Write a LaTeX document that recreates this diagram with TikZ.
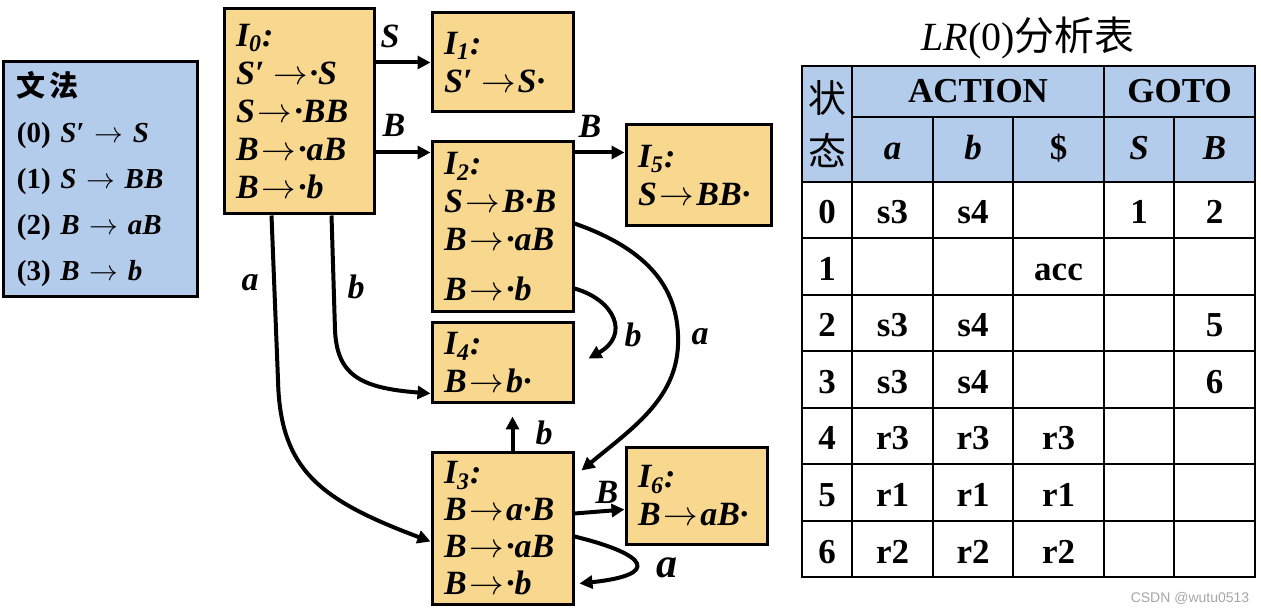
\documentclass[tikz,border=0pt]{standalone}
\usepackage{fontspec}
\setmainfont{Liberation Serif}
\newfontfamily\cjk{Noto Sans CJK SC}
\newfontfamily\wmfont{Liberation Sans}
\usetikzlibrary{arrows.meta,calc}
\definecolor{itemfill}{HTML}{F8D88E}
\definecolor{hdrfill}{HTML}{B4CCEB}
\tikzset{
	item/.style={draw, line width=1.5pt, fill=itemfill, align=left, inner xsep=6pt, inner ysep=1pt,
		font=\fontsize{17}{19}\selectfont\bfseries\itshape},
	arr/.style={line width=2pt, -{Triangle[length=6.5pt,width=6.5pt]}},
	lbl/.style={font=\fontsize{17}{19}\selectfont\bfseries\itshape, inner sep=0pt},
	tbl/.style={line width=1pt},
	cell/.style={font=\fontsize{17.5}{20}\selectfont\bfseries, inner sep=0pt, anchor=base}
}
\newcommand{\Iset}[1]{I\textsubscript{#1}:}
\newcommand{\itemar}{\kern1.5pt$\to$\kern1pt}
\begin{document}
\begin{tikzpicture}[x=0.5pt, y=-0.5pt]
\useasboundingbox (0,0) rectangle (1261,613);

% gramatica
	\node[draw, line width=1.5pt, fill=hdrfill, align=left, inner xsep=7pt, text width=83pt, minimum height=117.5pt,
		font=\fontsize{14.5}{23}\selectfont\bfseries] (G) at (100,179.5)
		{{\cjk 文\hspace{2pt}法}\\
		 (0) \textit{S}′ $\rightarrow$ \textit{S}\\
		 (1) \textit{S} $\rightarrow$ \textit{BB}\\
		 (2) \textit{B} $\rightarrow$ \textit{aB}\\
		 (3) \textit{B} $\rightarrow$ \textit{b}};

% estados
	\node[item, text width=63pt, minimum height=102.5pt] (I0) at (299,111.5)
		{\Iset{0}\\ S′\,\itemar·S\\ S\itemar·BB\\ B\itemar·aB\\ B\itemar·b};
	\node[item, text width=58.5pt, minimum height=49.5pt] (I1) at (502.5,62.5)
		{\Iset{1}\\ S′\,\itemar S·};
	\node[item, text width=58.5pt, minimum height=85pt] (I2) at (502.5,227)
		{\Iset{2}\\ S\itemar B·B\\ B\itemar·aB\\[6pt] B\itemar·b};
	\node[item, text width=60.5pt, minimum height=50.5pt] (I5) at (698.5,175.5)
		{\Iset{5}\\ S\itemar BB·};
	\node[item, text width=58.5pt, minimum height=40pt] (I4) at (502.5,363)
		{\Iset{4}\\ B\itemar b·};
	\node[item, text width=58.5pt, minimum height=75.5pt, font=\fontsize{17}{18.5}\selectfont\bfseries\itshape] (I3) at (502.5,528.5)
		{\Iset{3}\\ B\itemar a·B\\ B\itemar·aB\\ B\itemar·b};
	\node[item, text width=58.5pt, minimum height=48pt] (I6) at (696.5,496)
		{\Iset{6}\\ B\itemar aB·};

% transiciones
	\draw[arr] (I0.east |- I1.west) -- (I1.west);
	\coordinate (I2in) at ($(I2.north west)+(0,12)$);
	\draw[arr] (I0.east |- I2in) -- (I2in);
	\draw[arr] ($(I2.north east)+(0,12)$) -- ($(I5.north west)+(0,29)$);
	\draw[arr] ($(I0.south west)+(109,0)$) -- (335,330) .. controls (337,375) and (360,388) .. ($(I4.south west)+(0,-11)$);
	\draw[arr] ($(I0.south west)+(49,0)$) -- (278,380) .. controls (280,470) and (320,500) .. ($(I3.north west)+(0,90)$);
	\draw[arr] ($(I2.north east)+(0,83)$) .. controls (650,250) and (680,290) .. (678,345)
		.. controls (676,400) and (630,430) .. ($(I3.north east)+(7,19)$);
	\draw[arr] ($(I2.north east)+(0,148)$) .. controls (615,300) and (630,335) .. ($(I4.north east)+(14,37)$);
	\draw[arr] ($(I3.north west)+(82,0)$) -- ($(I4.south west)+(82,12)$);
	\draw[arr] ($(I3.north east)+(0,62)$) -- ($(I6.north west)+(0,63)$);
	\draw[arr] ($(I3.north east)+(0,85)$) .. controls (650,555) and (660,575) .. ($(I3.north east)+(5,132)$);

	\node[lbl] (l01) at (390,36) {S};
	\node[lbl] (l02) at (394,125) {B};
	\node[lbl] (l25) at (590,126) {B};
	\node[lbl] (l03) at (250,283) {a};
	\node[lbl] (l04) at (356,287) {b};
	\node[lbl] (l24) at (633,335) {b};
	\node[lbl] (l23) at (700,337) {a};
	\node[lbl] (l34) at (544,433) {b};
	\node[lbl] (l36) at (607,492) {B};
	\node[lbl, font=\fontsize{21}{23}\selectfont\bfseries\itshape] (l33) at (667,568) {a};

% tabla
	\node[font=\fontsize{20}{22}\selectfont] (titulo) at (1028,38) {\textit{LR}(0){\cjk 分析表}};
	\fill[hdrfill] (802,66) rectangle (1255,182);
	\draw[tbl] (802,66) rectangle (1255,577);
	\draw[tbl] (852,117) -- (1255,117);
	\foreach \y in {182, 238, 295, 351, 408, 464, 521}
		\draw[tbl] (802,\y) -- (1255,\y);
	\foreach \x in {852, 1104}
		\draw[tbl] (\x,66) -- (\x,577);
	\foreach \x in {933, 1013, 1174}
		\draw[tbl] (\x,117) -- (\x,577);

	\node[font=\cjk\fontsize{19}{26.5}\selectfont, align=center, inner sep=0pt] (estado) at (827,124) {状\\态};
	\node[cell] (action) at (978,103) {ACTION};
	\node[cell] (goto) at (1179.5,103) {GOTO};
	\node[cell] (ha) at (892.5,160) {\textit{a}};
	\node[cell] (hb) at (973,160) {\textit{b}};
	\node[cell] (hd) at (1058.5,160) {\$};
	\node[cell] (hS) at (1139,160) {\textit{S}};
	\node[cell] (hB) at (1214.5,160) {\textit{B}};

	\foreach \ca/\cb/\cd/\gs/\gb [count=\row from 0] in
		{s3/s4/{}/1/2, {}/{}/acc/{}/{}, s3/s4/{}/{}/5, s3/s4/{}/{}/6,
		 r3/r3/r3/{}/{}, r1/r1/r1/{}/{}, r2/r2/r2/{}/{}}{
		\node[cell] (s\row) at (827,224+56.5*\row) {\row};
		\node[cell] (a\row) at (892.5,224+56.5*\row) {\ca};
		\node[cell] (b\row) at (973,224+56.5*\row) {\cb};
		\node[cell] (d\row) at (1058.5,224+56.5*\row) {\cd};
		\node[cell] (gS\row) at (1139,224+56.5*\row) {\gs};
		\node[cell] (gB\row) at (1214.5,224+56.5*\row) {\gb};
	}

	\node[font=\wmfont\fontsize{7}{8}\selectfont, text=gray!70] (marca) at (1190,598) {CSDN @wutu0513};
\end{tikzpicture}
\end{document}
